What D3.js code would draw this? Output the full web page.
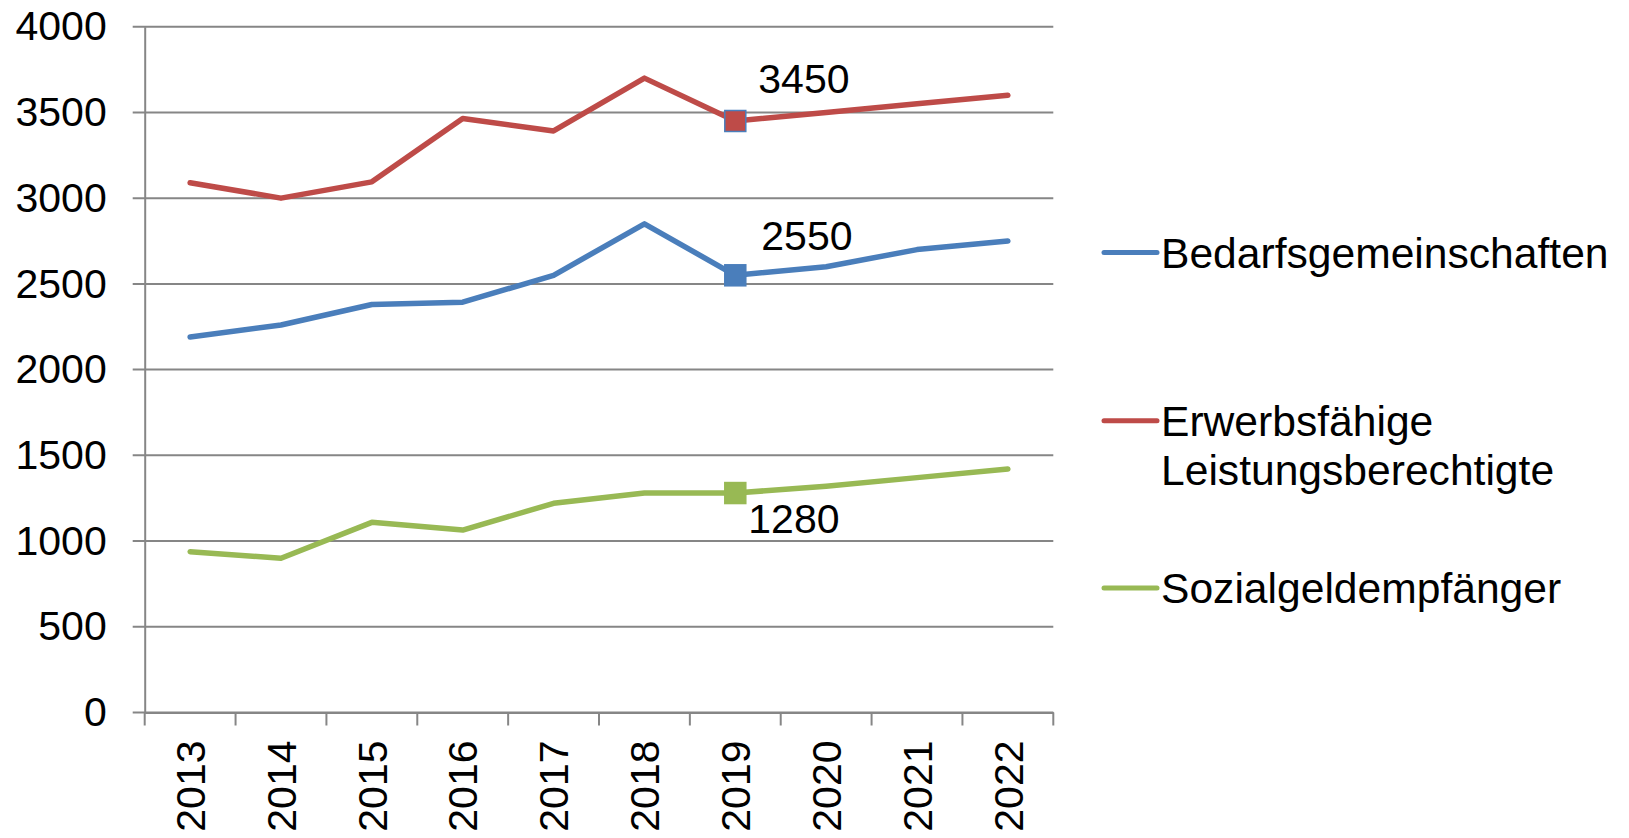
<!DOCTYPE html>
<html>
<head>
<meta charset="utf-8">
<script src="https://cdn.jsdelivr.net/npm/d3@7"></script>
<style>
  body { margin: 0; background: #fff; }
  text { font-family: "Liberation Sans", Arial, sans-serif; fill: #000; }
</style>
</head>
<body>
<svg id="chart" width="1629" height="838"></svg>
<script>
// data
var years = ["2013", "2014", "2015", "2016", "2017", "2018", "2019", "2020", "2021", "2022"];
var bedarfsgemeinschaften = [2190, 2260, 2380, 2393, 2550, 2850, 2550, 2600, 2700, 2750];
var erwerbsfaehige = [3090, 3000, 3095, 3465, 3392, 3700, 3450, 3500, 3550, 3600];
var sozialgeld = [938, 900, 1109, 1064, 1220, 1280, 1280, 1320, 1370, 1420];
var yTicks = [0, 500, 1000, 1500, 2000, 2500, 3000, 3500, 4000];
var seriesNames = ["Bedarfsgemeinschaften", "Erwerbsfähige\nLeistungsberechtigte", "Sozialgeldempfänger"];
var labelYear = "2019";

var series = [
  { name: seriesNames[0], values: bedarfsgemeinschaften, color: "#4a7ebb", mark: "#4a7ebb", lab: [26, -25] },
  { name: seriesNames[1], values: erwerbsfaehige, color: "#be4b48", mark: "#4a7ebb", lab: [23, -28] },
  { name: seriesNames[2], values: sozialgeld, color: "#98b954", mark: "#98b954", lab: [13, 40] }
];

var gridColor = "#868686";
var svg = d3.select("#chart");
var plotLeft = 144.7, plotRight = 1053.3, plotTop = 26.7, plotBottom = 712.5;

var x = d3.scaleBand().domain(years).range([plotLeft, plotRight]).padding(0);
var y = d3.scaleLinear().domain([0, 4000]).range([plotBottom, plotTop]);

// gridlines
svg.append("g")
  .selectAll("line")
  .data(yTicks)
  .join("line")
  .attr("x1", plotLeft - 12)
  .attr("x2", plotRight)
  .attr("y1", d => y(d))
  .attr("y2", d => y(d))
  .attr("stroke", gridColor)
  .attr("stroke-width", 2);

// y axis
var yAxis = svg.append("g")
  .attr("transform", "translate(" + plotLeft + ",0)")
  .call(d3.axisLeft(y).tickValues(yTicks).tickFormat(d3.format("d")).tickSize(0).tickPadding(38));
yAxis.select(".domain").attr("stroke", gridColor).attr("stroke-width", 2);
yAxis.selectAll("text")
  .style("font-size", "41px")
  .attr("font-family", null);

// x axis labels
var xAxis = svg.append("g")
  .attr("transform", "translate(0," + plotBottom + ")")
  .call(d3.axisBottom(x).tickSize(0).tickSizeOuter(0));
xAxis.select(".domain").attr("stroke", gridColor).attr("stroke-width", 2);
xAxis.selectAll("text")
  .style("font-size", "41px")
  .attr("font-family", null)
  .attr("text-anchor", "end")
  .attr("transform", "rotate(-90)")
  .attr("x", -28)
  .attr("y", 0)
  .attr("dy", "0.36em");

// boundary ticks
var bounds = years.map(d => x(d)).concat([plotRight]);
svg.append("g")
  .selectAll("line")
  .data(bounds)
  .join("line")
  .attr("x1", d => d)
  .attr("x2", d => d)
  .attr("y1", plotBottom)
  .attr("y2", plotBottom + 13)
  .attr("stroke", gridColor)
  .attr("stroke-width", 2);

// lines
var line = d3.line()
  .x((d, i) => x(years[i]) + x.bandwidth() / 2)
  .y(d => y(d));

series.forEach(function (s) {
  svg.append("path")
    .datum(s.values)
    .attr("fill", "none")
    .attr("stroke", s.color)
    .attr("stroke-width", 5.5)
    .attr("stroke-linejoin", "round")
    .attr("stroke-linecap", "round")
    .attr("d", line);
});

// highlighted 2019 markers and their labels
series.forEach(function (s) {
  var i = years.indexOf(labelYear);
  var cx = x(labelYear) + x.bandwidth() / 2;
  var cy = y(s.values[i]);
  svg.append("rect")
    .attr("x", cx - 10.5)
    .attr("y", cy - 10.5)
    .attr("width", 21)
    .attr("height", 21)
    .attr("fill", s.color)
    .attr("stroke", s.mark)
    .attr("stroke-width", 1.5);
  svg.append("text")
    .attr("x", cx + s.lab[0])
    .attr("y", cy + s.lab[1])
    .style("font-size", "41px")
    .text(s.values[i]);
});

// legend
var legendY = [252.5, 420.8, 588];
series.forEach(function (s, k) {
  var g = svg.append("g").attr("transform", "translate(0," + legendY[k] + ")");
  g.append("line")
    .attr("x1", 1104)
    .attr("x2", 1157)
    .attr("y1", 0)
    .attr("y2", 0)
    .attr("stroke", s.color)
    .attr("stroke-width", 5)
    .attr("stroke-linecap", "round");
  var t = g.append("text")
    .attr("x", 1161)
    .attr("y", 0)
    .style("font-size", "42.6px");
  s.name.split("\n").forEach(function (part, j) {
    t.append("tspan")
      .attr("x", 1161)
      .attr("dy", j === 0 ? "0.36em" : "48.8px")
      .text(part);
  });
});
</script>
</body>
</html>
